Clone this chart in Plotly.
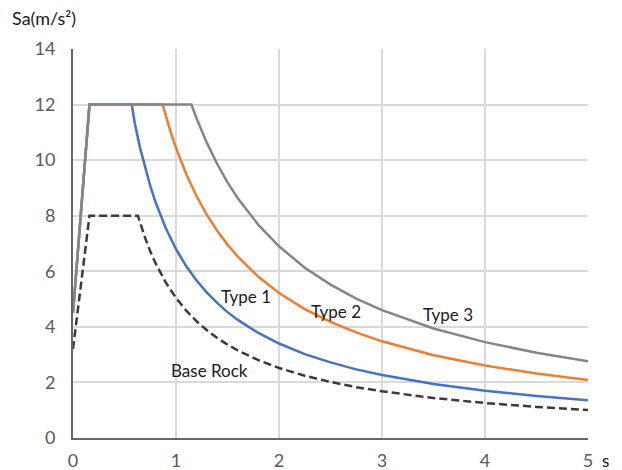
import plotly.graph_objects as go

# Period (s) and spectral acceleration Sa (m/s^2)
type1_x = [0, 0.16, 0.57, 0.6, 0.65, 0.7, 0.75, 0.8, 0.9, 1.0, 1.1, 1.2, 1.3, 1.4, 1.5, 1.6, 1.8, 2.0, 2.25, 2.5, 2.75, 3.0, 3.5, 4.0, 4.5, 5.0]
type1_y = [4.5, 12, 12, 11.33, 10.46, 9.71, 9.07, 8.5, 7.56, 6.8, 6.18, 5.67, 5.23, 4.86, 4.53, 4.25, 3.78, 3.4, 3.02, 2.72, 2.47, 2.27, 1.94, 1.7, 1.51, 1.36]

type2_x = [0, 0.16, 0.87, 0.9, 0.95, 1.0, 1.1, 1.2, 1.3, 1.4, 1.5, 1.6, 1.8, 2.0, 2.25, 2.5, 2.75, 3.0, 3.5, 4.0, 4.5, 5.0]
type2_y = [4.5, 12, 12, 11.6, 10.99, 10.44, 9.49, 8.7, 8.03, 7.46, 6.96, 6.53, 5.8, 5.22, 4.64, 4.18, 3.8, 3.48, 2.98, 2.61, 2.32, 2.09]

type3_x = [0, 0.16, 1.15, 1.2, 1.3, 1.4, 1.5, 1.6, 1.8, 2.0, 2.25, 2.5, 2.75, 3.0, 3.5, 4.0, 4.5, 5.0]
type3_y = [4.5, 12, 12, 11.5, 10.62, 9.86, 9.2, 8.63, 7.67, 6.9, 6.13, 5.52, 5.02, 4.6, 3.94, 3.45, 3.07, 2.76]

base_x = [0, 0.16, 0.63, 0.65, 0.7, 0.75, 0.8, 0.9, 1.0, 1.1, 1.2, 1.3, 1.4, 1.5, 1.6, 1.8, 2.0, 2.25, 2.5, 2.75, 3.0, 3.5, 4.0, 4.5, 5.0]
base_y = [3.2, 8, 8, 7.75, 7.2, 6.72, 6.3, 5.6, 5.04, 4.58, 4.2, 3.88, 3.6, 3.36, 3.15, 2.8, 2.52, 2.24, 2.02, 1.83, 1.68, 1.44, 1.26, 1.12, 1.01]

x_ticks = [0, 1, 2, 3, 4, 5]
y_ticks = [0, 2, 4, 6, 8, 10, 12, 14]

labels = ["Type 1", "Type 2", "Type 3", "Base Rock"]
label_x = [1.68, 2.55, 3.64, 1.33]
label_y = [5.10, 4.54, 4.43, 2.44]

FONT = "Lato"

fig = go.Figure()
fig.add_trace(go.Scatter(x=base_x, y=base_y, mode="lines", name="Base Rock",
                         line=dict(color="#3a3a3a", width=2.5, dash="8px,4px")))
fig.add_trace(go.Scatter(x=type1_x, y=type1_y, mode="lines", name="Type 1",
                         line=dict(color="#4472C4", width=2.5)))
fig.add_trace(go.Scatter(x=type2_x, y=type2_y, mode="lines", name="Type 2",
                         line=dict(color="#ED7D31", width=2.5)))
fig.add_trace(go.Scatter(x=type3_x, y=type3_y, mode="lines", name="Type 3",
                         line=dict(color="#858585", width=2.5)))

for t, lx, ly in zip(labels, label_x, label_y):
    fig.add_annotation(x=lx, y=ly, xref="x", yref="y", text=t, showarrow=False,
                       font=dict(family=FONT, size=17, color="#1a1a1a"))

# Axis titles placed as in the reference (top-left and bottom-right)
fig.add_annotation(x=-0.122, y=1.08, xref="paper", yref="paper", text="Sa(m/s²)",
                   showarrow=False, xanchor="left", yanchor="middle",
                   font=dict(family=FONT, size=18, color="#1a1a1a"))
fig.add_annotation(x=1.0, y=0, xref="paper", yref="paper", text="s", showarrow=False,
                   xanchor="center", yanchor="middle", xshift=17, yshift=-22,
                   font=dict(family=FONT, size=17, color="#1a1a1a"))

fig.update_layout(
    width=622, height=470,
    margin=dict(l=73, r=34, t=49, b=32, autoexpand=False),
    paper_bgcolor="white", plot_bgcolor="white",
    showlegend=False,
    font=dict(family=FONT, size=18, color="#595959"),
)
fig.update_xaxes(range=[0, 5], tickvals=x_ticks, showgrid=True, gridcolor="#d9d9d9", gridwidth=1.5,
                 zeroline=False, showline=True, linecolor="#666666", linewidth=2,
                 ticks="", ticklabelstandoff=5, automargin=False,
                 tickfont=dict(family=FONT, size=18, color="#595959"))
fig.update_yaxes(range=[0, 14], tickvals=y_ticks, showgrid=True, gridcolor="#d9d9d9", gridwidth=1.5,
                 zeroline=False, showline=True, linecolor="#666666", linewidth=2,
                 ticks="", ticklabelstandoff=12, automargin=False,
                 tickfont=dict(family=FONT, size=18, color="#595959"))

fig.write_html("out.html", config={"displayModeBar": False},
               post_script="document.body.style.margin='0';")
